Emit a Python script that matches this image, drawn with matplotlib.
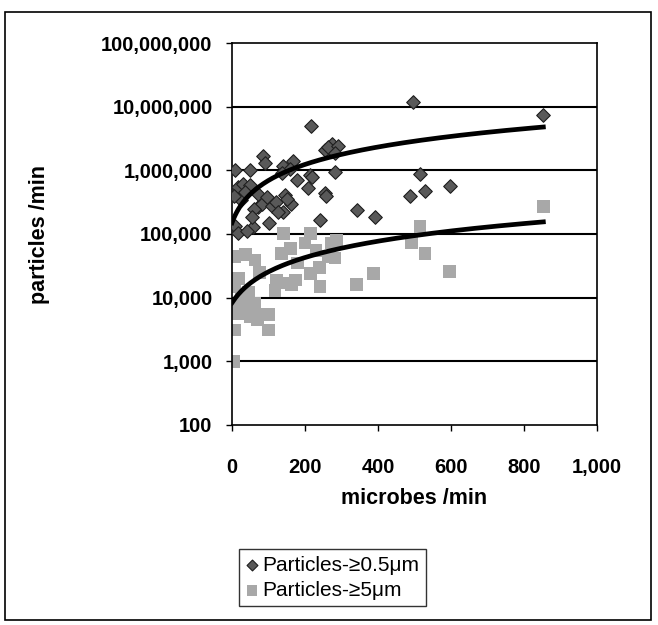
import numpy as np
import matplotlib
matplotlib.use('Agg')
import matplotlib.pyplot as plt
from matplotlib.ticker import FuncFormatter, FixedLocator
from matplotlib.patches import Rectangle

plt.rcParams['font.family'] = ['Liberation Sans', 'DejaVu Sans']

# particles >= 0.5 um (microbes/min, particles/min)
big_x = [497, 853, 216, 255, 273, 262, 290, 283, 86, 90, 8, 49, 141, 168, 159,
         136, 214, 282, 515, 177, 218, 209, 255, 258, 342, 392, 488, 529, 597,
         241, 17, 31, 49, 26, 72, 100, 145, 163, 141, 81, 60, 110, 120, 100,
         58, 8, 17, 40, 54, 5, 35, 70, 95, 125, 150]
big_y = [12000000, 7400000, 5000000, 2100000, 2600000, 2300000, 2400000, 1900000,
         1700000, 1300000, 1000000, 1000000, 1150000, 1400000, 1050000, 900000,
         850000, 950000, 870000, 700000, 800000, 520000, 440000, 390000, 240000,
         187000, 390000, 470000, 560000, 166000, 550000, 610000, 580000, 340000,
         270000, 340000, 410000, 300000, 225000, 300000, 250000, 280000, 320000,
         148000, 131000, 135000, 102000, 110000, 186000, 400000, 450000, 420000,
         380000, 220000, 350000]

# particles >= 5 um
small_x = [853, 515, 492, 529, 595, 214, 141, 200, 273, 287, 264, 282, 136, 36,
           63, 8, 214, 241, 342, 387, 163, 145, 122, 173, 118, 8, 17, 36, 58,
           100, 100, 8, 4, 17, 90, 63, 25, 45, 75, 160, 230, 180, 240, 12, 50, 70]
small_y = [270000, 130000, 72000, 50000, 26000, 102000, 102000, 72000, 72000,
           80000, 44000, 42000, 50000, 47000, 39000, 44000, 24000, 15000, 16000,
           24000, 16000, 17000, 19000, 19000, 13000, 15000, 20000, 8100, 6400,
           5400, 3100, 3100, 1000, 5600, 5400, 8000, 10000, 12000, 25000, 60000,
           55000, 35000, 30000, 7000, 5000, 4500]

# linear trendlines (intercept, slope) as shown in the chart
big_trend = (150000, 5440)
small_trend = (8300, 172)

y_ticks = [100, 1000, 10000, 100000, 1000000, 10000000, 100000000]
x_ticks = [0, 200, 400, 600, 800, 1000]

fig = plt.figure(figsize=(6.58, 6.25), dpi=100)
fig.patches.append(Rectangle((5 / 658, 5 / 625), 646 / 658, 608 / 625,
                             transform=fig.transFigure, fill=False,
                             edgecolor='black', linewidth=1.2))

ax = fig.add_axes([232 / 658, 200 / 625, 365 / 658, 382 / 625])
ax.set_yscale('log')
ax.set_xlim(0, 1000)
ax.set_ylim(100, 100000000)

for yv in y_ticks[1:-1]:
    ax.axhline(yv, color='black', linewidth=1.5, zorder=1)

ax.scatter(small_x, small_y, marker='s', s=85, color='#a8a8a8',
           edgecolors='none', zorder=2, label='Particles-≥5μm')
ax.scatter(big_x, big_y, marker='D', s=48, color='#595959',
           edgecolors='#1e1e1e', linewidths=0.8, zorder=3,
           label='Particles-≥0.5μm')

tx = np.linspace(0, max(big_x), 200)
ax.plot(tx, big_trend[0] + big_trend[1] * tx, color='black', linewidth=3.4, zorder=4)
tx2 = np.linspace(0, max(small_x), 200)
ax.plot(tx2, small_trend[0] + small_trend[1] * tx2, color='black', linewidth=3.4, zorder=4)

ax.yaxis.set_major_locator(FixedLocator(y_ticks))
ax.yaxis.set_minor_locator(FixedLocator([]))
ax.xaxis.set_major_locator(FixedLocator(x_ticks))
ax.yaxis.set_major_formatter(FuncFormatter(lambda v, p: f'{v:,.0f}'))
ax.xaxis.set_major_formatter(FuncFormatter(lambda v, p: f'{v:,.0f}'))
ax.tick_params(axis='both', labelsize=14.5, length=4, width=1, direction='out')
ax.tick_params(axis='y', pad=10)
ax.tick_params(axis='x', pad=20)
for lab in ax.get_xticklabels() + ax.get_yticklabels():
    lab.set_fontweight('bold')
for sp in ax.spines.values():
    sp.set_linewidth(1.2)
    sp.set_color('black')

fig.text(414 / 658, (625 - 498) / 625, 'microbes /min', ha='center', va='center',
         fontsize=15.5, fontweight='bold')
fig.text(40 / 658, (625 - 234) / 625, 'particles /min', ha='center', va='center',
         rotation=90, fontsize=15.5, fontweight='bold')

handles, labels = ax.get_legend_handles_labels()
leg = fig.legend(handles[::-1], labels[::-1], loc='upper left',
                 bbox_to_anchor=(229 / 658, (625 - 539) / 625),
                 fontsize=15, frameon=True, fancybox=False, handlelength=0.6,
                 handletextpad=0.2, borderpad=0.3, labelspacing=0.3,
                 markerscale=0.8)
leg.get_frame().set_edgecolor('black')
leg.get_frame().set_linewidth(1.0)

fig.savefig('out.png', dpi=100)
